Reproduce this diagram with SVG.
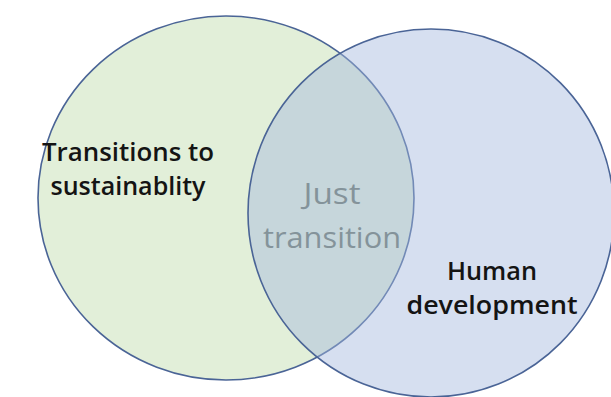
<svg xmlns="http://www.w3.org/2000/svg" width="611" height="397" viewBox="0 0 611 397">
  <style>
    .set { stroke: #4a6496; stroke-width: 1.6; }
    .label { font-family: "Open Sans", "Liberation Sans", sans-serif; font-size: 25px; font-weight: 600; text-anchor: middle; fill: #141414; }
    .mid { fill: #84939a; font-size: 29px; font-weight: 500; }
  </style>
  <rect width="611" height="397" fill="#ffffff"/>
  <g id="sustainability">
    <ellipse class="set" cx="226" cy="198" rx="188" ry="182" fill="#e2efd9"/>
  </g>
  <g id="human-development">
    <ellipse class="set" cx="431" cy="213" rx="183" ry="184" fill="#a4b8de" fill-opacity="0.45"/>
  </g>
  <g id="connectors"></g>
  <g id="labels">
    <text class="label" x="128" y="161" textLength="172" lengthAdjust="spacingAndGlyphs">Transitions to</text>
    <text class="label" x="128" y="195" textLength="155" lengthAdjust="spacingAndGlyphs">sustainablity</text>
    <text class="label mid" x="332" y="204" textLength="57" lengthAdjust="spacingAndGlyphs">Just</text>
    <text class="label mid" x="332" y="248" textLength="138" lengthAdjust="spacingAndGlyphs">transition</text>
    <text class="label" x="492" y="280" textLength="90" lengthAdjust="spacingAndGlyphs">Human</text>
    <text class="label" x="492" y="314" textLength="171" lengthAdjust="spacingAndGlyphs">development</text>
  </g>
</svg>
